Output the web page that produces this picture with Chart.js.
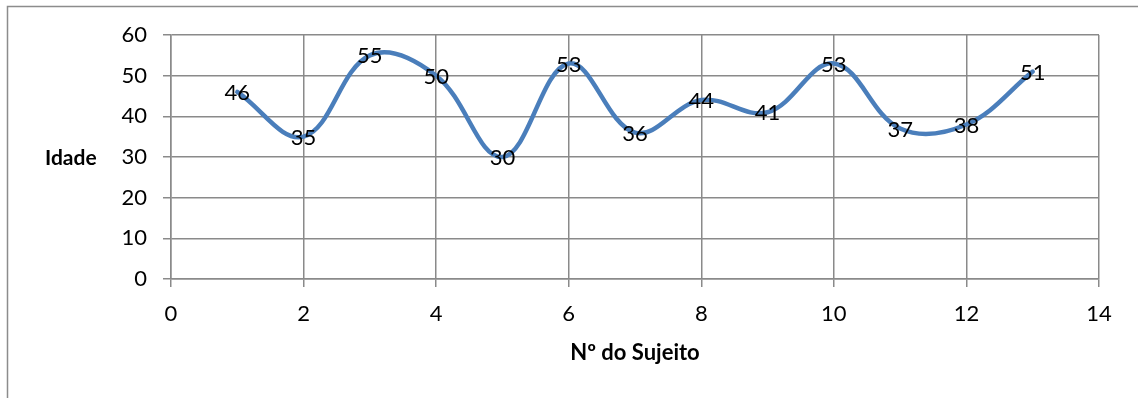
<!DOCTYPE html>
<html>
<head>
<meta charset="utf-8">
<script src="https://cdn.jsdelivr.net/npm/chart.js@4/dist/chart.umd.min.js"></script>
<style>
  html, body { margin: 0; padding: 0; background: #ffffff; }
  #wrap { width: 1138px; height: 398px; position: relative; }
</style>
</head>
<body>
<div id="wrap"><canvas id="c" width="1138" height="398"></canvas></div>
<script>
// Subject number and age of each subject
const subjects = [1, 2, 3, 4, 5, 6, 7, 8, 9, 10, 11, 12, 13];
const ages = [46, 35, 55, 50, 30, 53, 36, 44, 41, 53, 37, 38, 51];
const xTicks = [0, 2, 4, 6, 8, 10, 12, 14];
const yTicks = [0, 10, 20, 30, 40, 50, 60];
const xTitle = 'Nº do Sujeito';
const yTitle = 'Idade';

const FONT = 'Lato, "Open Sans", sans-serif';
const GRID = '#8a8a8a';

// outer frame, axis titles and value labels on each point
const decorations = {
  id: 'decorations',
  beforeDraw(chart) {
    const ctx = chart.ctx;
    ctx.save();
    ctx.fillStyle = '#ffffff';
    ctx.fillRect(0, 0, chart.width, chart.height);
    ctx.strokeStyle = '#8c8c8c';
    ctx.lineWidth = 1.5;
    ctx.beginPath();
    ctx.moveTo(7.5, chart.height + 2);
    ctx.lineTo(7.5, 6.5);
    ctx.lineTo(chart.width + 2, 6.5);
    ctx.stroke();
    ctx.restore();
  },
  afterDraw(chart) {
    const ctx = chart.ctx;
    const area = chart.chartArea;
    ctx.save();
    ctx.fillStyle = '#000000';
    ctx.font = 'bold 21px ' + FONT;
    ctx.textAlign = 'left';
    ctx.textBaseline = 'middle';
    ctx.fillText(yTitle, 45, 158);
    ctx.font = 'bold 22px ' + FONT;
    ctx.textAlign = 'center';
    ctx.fillText(xTitle, (area.left + area.right) / 2, 353);

    ctx.font = '22px ' + FONT;
    ctx.textAlign = 'center';
    ctx.textBaseline = 'middle';
    const meta = chart.getDatasetMeta(0);
    meta.data.forEach((pt, i) => {
      ctx.fillText(String(ages[i]), pt.x, pt.y + 1);
    });
    ctx.restore();
  }
};

new Chart(document.getElementById('c'), {
  type: 'line',
  data: {
    datasets: [{
      data: subjects.map((s, i) => ({ x: s, y: ages[i] })),
      borderColor: '#4a7ebb',
      borderWidth: 4.5,
      pointRadius: 0,
      pointHoverRadius: 0,
      tension: 0.38,
      fill: false,
      borderCapStyle: 'round',
      borderJoinStyle: 'round'
    }]
  },
  options: {
    responsive: false,
    animation: false,
    events: [],
    layout: { padding: { top: 35, right: 39, left: 0, bottom: 0 } },
    plugins: {
      legend: { display: false },
      tooltip: { enabled: false }
    },
    scales: {
      x: {
        type: 'linear',
        min: 0,
        max: 14,
        afterBuildTicks(scale) { scale.ticks = xTicks.map(v => ({ value: v })); },
        afterFit(scale) { scale.height = 398 - 279; },
        grid: { color: GRID, lineWidth: 1.5, tickLength: 8 },
        border: { color: GRID, width: 1.5 },
        ticks: { color: '#000', font: { family: FONT, size: 22 }, padding: 14, maxRotation: 0 }
      },
      y: {
        min: 0,
        max: 60,
        afterBuildTicks(scale) { scale.ticks = yTicks.map(v => ({ value: v })); },
        afterFit(scale) { scale.width = 171; },
        grid: { color: GRID, lineWidth: 1.5, tickLength: 8 },
        border: { color: GRID, width: 1.5 },
        ticks: { color: '#000', font: { family: FONT, size: 22 }, padding: 16 }
      }
    }
  },
  plugins: [decorations]
});
</script>
</body>
</html>
